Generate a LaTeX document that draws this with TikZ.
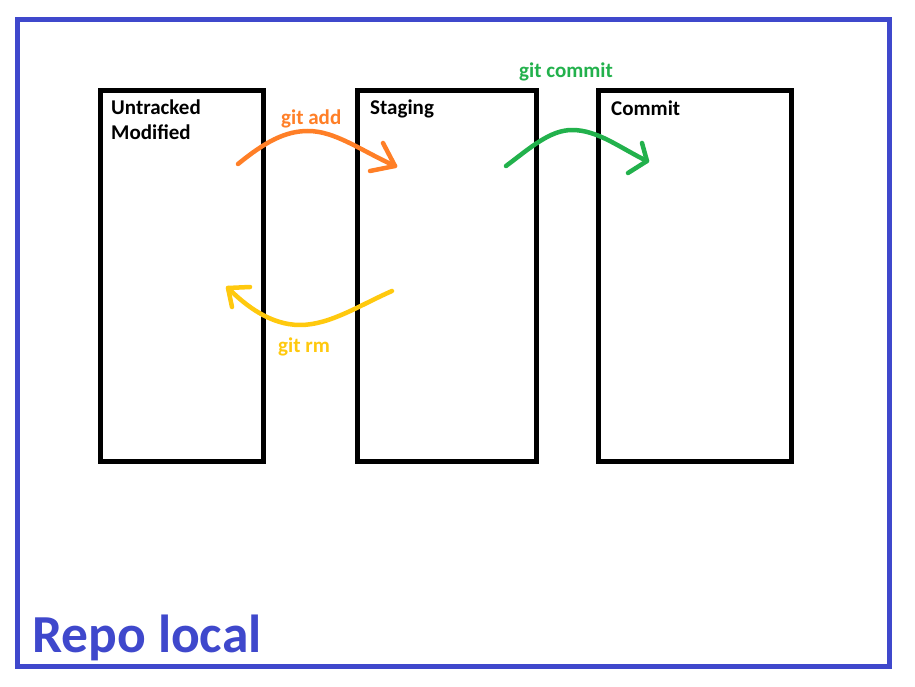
\documentclass[tikz,border=0pt]{standalone}
\usepackage{fontspec}
\setmainfont{Carlito}
\definecolor{repoblue}{RGB}{63,72,204}
\definecolor{addorange}{RGB}{255,127,39}
\definecolor{commitgreen}{RGB}{34,177,76}
\definecolor{rmyellow}{RGB}{255,201,14}
\begin{document}
\begin{tikzpicture}[x=1pt,y=-1pt,
  stagebox/.style={draw=black,line width=5pt},
  boxlabel/.style={anchor=base west,inner sep=0pt,font=\fontsize{21}{25}\selectfont\bfseries},
  cmdlabel/.style={anchor=base west,inner sep=0pt,font=\fontsize{21}{25}\selectfont\bfseries},
  flow/.style={line width=4.5pt,line cap=round,line join=round}]
\useasboundingbox (0,0) rectangle (915,687);
\fill[white] (0,0) rectangle (915,687);
% outer frame
\draw[repoblue,line width=5pt] (17.5,19.5) rectangle (889.5,666.5);
\node[anchor=base west,inner sep=0pt,text=repoblue,font=\fontsize{53.5}{60}\selectfont\bfseries] (repo) at (32,652) {Repo local};
% boxes
\draw[stagebox] (100.5,90.5) rectangle (263,461.5);
\draw[stagebox] (357.5,90.5) rectangle (536,461.5);
\draw[stagebox] (598.5,90.5) rectangle (791,461.5);
\node[boxlabel] (untr) at (111,115) {Untracked};
\node[boxlabel] (modi) at (111,140) {Modified};
\node[boxlabel] (stag) at (370,115) {Staging};
\node[boxlabel] (comm) at (611,116) {Commit};
% git add
\coordinate (a0) at (238,164);
\coordinate (a1) at (395,166);
\draw[flow,addorange] (a0) .. controls (265,142) and (285,131) .. (308,131)
  .. controls (335,131) and (360,150) .. (a1);
\draw[flow,addorange] (383,143) -- (a1) -- (370,171);
\node[cmdlabel,text=addorange] (gadd) at (281,125) {git add};
% git commit
\coordinate (c0) at (506,166);
\coordinate (c1) at (647,161);
\draw[flow,commitgreen] (c0) .. controls (530,148) and (550,130) .. (572,130)
  .. controls (598,130) and (620,148) .. (c1);
\draw[flow,commitgreen] (642,143) -- (c1) -- (628,173);
\node[cmdlabel,text=commitgreen] (gcom) at (519,78) {git commit};
% git rm
\coordinate (r0) at (392,291);
\coordinate (r1) at (228,288);
\draw[flow,rmyellow] (r0) .. controls (360,305) and (330,325) .. (300,325)
  .. controls (270,325) and (245,305) .. (r1);
\draw[flow,rmyellow] (250,287) -- (r1) -- (232,307);
\node[cmdlabel,text=rmyellow] (grm) at (278,352) {git rm};
\end{tikzpicture}
\end{document}
